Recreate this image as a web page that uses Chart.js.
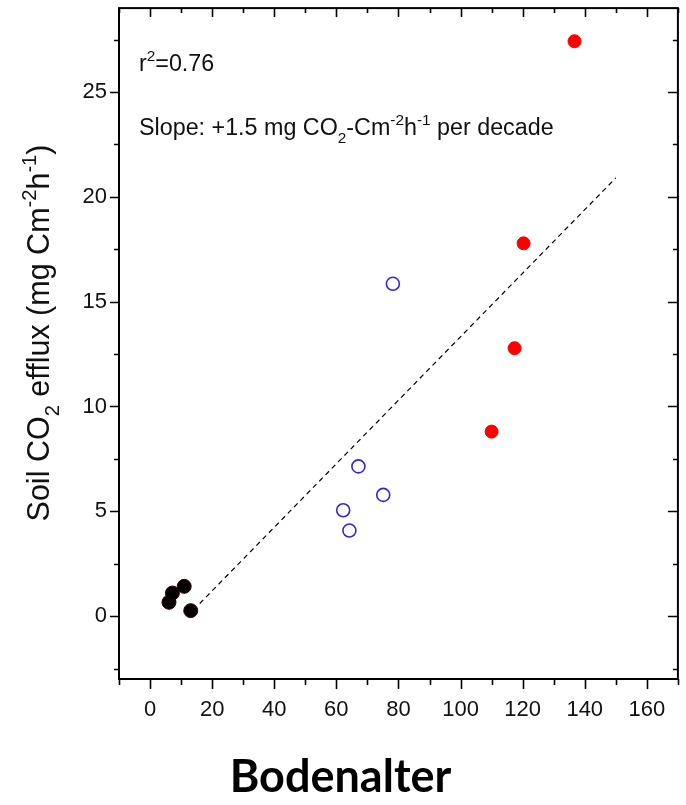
<!DOCTYPE html>
<html>
<head>
<meta charset="utf-8">
<script src="https://cdn.jsdelivr.net/npm/chart.js@4"></script>
<style>
  html, body { margin: 0; padding: 0; background: #fff; }
  #wrap { width: 686px; height: 805px; }
</style>
</head>
<body>
<div id="wrap"><canvas id="chart" width="686" height="805"></canvas></div>
<script>
// soil age (years) vs soil CO2 efflux
const ageYoung = [6.1, 7.2, 11.0, 13.1];
const fluxYoung = [0.66, 1.1, 1.42, 0.26];
const ageMid = [62.2, 64.2, 67.1, 75.1, 78.2];
const fluxMid = [5.05, 4.08, 7.14, 5.78, 15.85];
const ageOld = [110.0, 117.4, 120.3, 136.7];
const fluxOld = [8.8, 12.78, 17.78, 27.42];
const trendAge = [16, 150];
const trendFlux = [0.6, 20.9];

const xTicks = [0, 20, 40, 60, 80, 100, 120, 140, 160];
const yTicks = [0, 5, 10, 15, 20, 25];

const pts = (xs, ys) => xs.map((x, i) => ({ x: x, y: ys[i] }));

// draws text pieces with sub/superscripts
function richText(ctx, parts, x, y, size) {
  let cx = x;
  parts.forEach(p => {
    const s = p.sub || p.sup ? size * 0.66 : size;
    ctx.font = s + 'px "Liberation Sans", Arial, sans-serif';
    let dy = 0;
    if (p.sub) dy = size * 0.33;
    if (p.sup) dy = -size * 0.42;
    ctx.fillText(p.t, cx, y + dy);
    cx += ctx.measureText(p.t).width;
  });
  return cx - x;
}
function richWidth(ctx, parts, size) {
  let w = 0;
  parts.forEach(p => {
    const s = p.sub || p.sup ? size * 0.66 : size;
    ctx.font = s + 'px "Liberation Sans", Arial, sans-serif';
    w += ctx.measureText(p.t).width;
  });
  return w;
}

const framePlugin = {
  id: 'frame',
  afterDraw(chart) {
    const ctx = chart.ctx;
    const a = chart.chartArea;
    const xs = chart.scales.x, ys = chart.scales.y;
    ctx.save();
    ctx.strokeStyle = '#000';
    ctx.lineWidth = 2;
    ctx.strokeRect(a.left, a.top, a.right - a.left, a.bottom - a.top);
    ctx.lineWidth = 1.6;
    ctx.beginPath();
    for (let v = -10; v <= 170; v += 10) {
      const px = Math.round(xs.getPixelForValue(v)) + 0.5;
      const major = v % 20 === 0;
      ctx.moveTo(px, a.bottom); ctx.lineTo(px, a.bottom + (major ? 10 : 6));
      ctx.moveTo(px, a.top); ctx.lineTo(px, a.top + (major ? 9 : 5));
    }
    for (let v = -2.5; v <= 29; v += 2.5) {
      const py = Math.round(ys.getPixelForValue(v)) + 0.5;
      const major = v % 5 === 0;
      ctx.moveTo(a.left, py); ctx.lineTo(a.left - (major ? 9 : 5), py);
      ctx.moveTo(a.right, py); ctx.lineTo(a.right - (major ? 10 : 5), py);
    }
    ctx.stroke();

    // annotations
    ctx.fillStyle = '#111';
    ctx.textBaseline = 'alphabetic';
    ctx.textAlign = 'left';
    richText(ctx, [{ t: 'r' }, { t: '2', sup: true }, { t: '=0.76' }], a.left + 20, 71, 23.3);
    richText(ctx, [
      { t: 'Slope: +1.5 mg CO' }, { t: '2', sub: true }, { t: '-Cm' }, { t: '-2', sup: true },
      { t: 'h' }, { t: '-1', sup: true }, { t: ' per decade' }
    ], a.left + 20, 135, 23.3);

    // y axis title
    const yParts = [
      { t: 'Soil CO' }, { t: '2', sub: true }, { t: ' efflux (mg Cm' }, { t: '-2', sup: true },
      { t: 'h' }, { t: '-1', sup: true }, { t: ')' }
    ];
    const w = richWidth(ctx, yParts, 30.5);
    ctx.translate(49, 333);
    ctx.rotate(-Math.PI / 2);
    richText(ctx, yParts, -w / 2, 0, 30.5);
    ctx.restore();
  }
};

window.onload = () => {
  const ctx = document.getElementById('chart').getContext('2d');
  new Chart(ctx, {
    type: 'scatter',
    data: {
      datasets: [
        {
          type: 'line',
          label: 'trend',
          data: pts(trendAge, trendFlux),
          borderColor: '#000',
          borderWidth: 1.2,
          borderDash: [5, 4],
          pointRadius: 0,
          fill: false
        },
        {
          label: 'young',
          data: pts(ageYoung, fluxYoung),
          backgroundColor: '#000',
          borderColor: '#3a0000',
          borderWidth: 1,
          pointRadius: 7
        },
        {
          label: 'mid',
          data: pts(ageMid, fluxMid),
          backgroundColor: 'rgba(0,0,0,0)',
          borderColor: '#3a22d8',
          borderWidth: 1.6,
          pointRadius: 6.5
        },
        {
          label: 'old',
          data: pts(ageOld, fluxOld),
          backgroundColor: '#ff0000',
          borderColor: '#ff0000',
          borderWidth: 1,
          pointRadius: 6.5
        }
      ]
    },
    options: {
      responsive: false,
      animation: false,
      layout: { padding: { top: 8, right: 5, left: 0, bottom: 0 } },
      plugins: {
        legend: { display: false },
        tooltip: { enabled: false },
        title: {
          display: true,
          position: 'bottom',
          text: 'Bodenalter',
          color: '#000',
          font: { family: 'Lato, "Open Sans", sans-serif', size: 45, weight: 'bold' },
          padding: { top: 21, bottom: 1 }
        }
      },
      scales: {
        x: {
          type: 'linear',
          min: -10,
          max: 170,
          grid: { display: false, drawTicks: false },
          border: { display: false },
          afterBuildTicks: s => { s.ticks = xTicks.map(v => ({ value: v })); },
          afterFit: s => { s.height = 50; s.paddingLeft = 0; s.paddingRight = 0; },
          ticks: {
            color: '#111',
            padding: 18,
            maxRotation: 0,
            font: { family: '"Liberation Sans", Arial, sans-serif', size: 22 }
          }
        },
        y: {
          type: 'linear',
          min: -3,
          max: 29,
          grid: { display: false, drawTicks: false },
          border: { display: false },
          afterBuildTicks: s => { s.ticks = yTicks.map(v => ({ value: v })); },
          afterFit: s => { s.width = 119; s.paddingTop = 0; s.paddingBottom = 0; },
          ticks: {
            color: '#111',
            padding: 12,
            font: { family: '"Liberation Sans", Arial, sans-serif', size: 22 }
          }
        }
      }
    },
    plugins: [framePlugin]
  });
};
</script>
</body>
</html>
